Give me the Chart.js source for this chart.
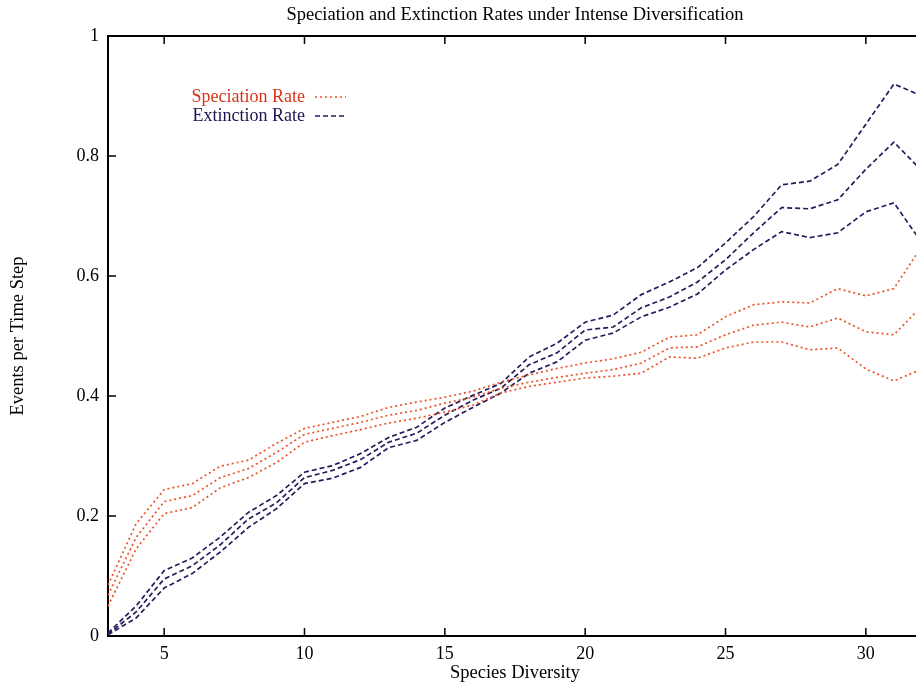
<!DOCTYPE html>
<html><head><meta charset="utf-8">
<script src="https://cdn.jsdelivr.net/npm/chart.js@4/dist/chart.umd.min.js"></script>
<style>html,body{margin:0;padding:0;overflow:hidden;background:#fff;width:916px;height:682px}</style>
</head><body>
<canvas id="c" width="940" height="682" style="display:block;width:940px;height:682px"></canvas>
<script>
const titleText = 'Speciation and Extinction Rates under Intense Diversification';
const xAxisTitle = 'Species Diversity';
const yAxisTitle = 'Events per Time Step';
const legendLabels = ['Speciation Rate', 'Extinction Rate'];

const speciesDiversity = [3,4,5,6,7,8,9,10,11,12,13,14,15,16,17,18,19,20,21,22,23,24,25,26,27,28,29,30,31,32];

const speciationUpper = [0.085,0.187,0.244,0.254,0.283,0.293,0.321,0.346,0.356,0.366,0.381,0.390,0.398,0.408,0.423,0.435,0.446,0.455,0.462,0.473,0.498,0.502,0.532,0.552,0.557,0.555,0.579,0.567,0.579,0.650];
const speciationMean  = [0.068,0.164,0.224,0.234,0.264,0.279,0.306,0.336,0.346,0.356,0.368,0.376,0.388,0.398,0.413,0.423,0.431,0.438,0.444,0.455,0.480,0.482,0.502,0.518,0.523,0.515,0.530,0.507,0.502,0.550];
const speciationLower = [0.050,0.145,0.204,0.214,0.247,0.264,0.289,0.323,0.334,0.344,0.355,0.363,0.373,0.385,0.405,0.416,0.423,0.430,0.433,0.438,0.465,0.463,0.480,0.490,0.490,0.477,0.480,0.445,0.425,0.445];

const extinctionUpper = [0.005,0.050,0.109,0.130,0.165,0.206,0.234,0.273,0.284,0.304,0.331,0.348,0.380,0.401,0.421,0.465,0.488,0.523,0.535,0.569,0.590,0.614,0.655,0.699,0.752,0.758,0.786,0.853,0.920,0.900];
const extinctionMean  = [0.003,0.040,0.095,0.117,0.152,0.195,0.222,0.264,0.276,0.294,0.323,0.338,0.368,0.393,0.413,0.452,0.472,0.510,0.515,0.547,0.565,0.590,0.627,0.672,0.714,0.712,0.727,0.778,0.823,0.775];
const extinctionLower = [0.002,0.030,0.080,0.104,0.140,0.181,0.212,0.254,0.263,0.281,0.314,0.326,0.356,0.381,0.405,0.438,0.457,0.493,0.505,0.532,0.548,0.570,0.610,0.644,0.674,0.664,0.672,0.707,0.722,0.655];

const xTickValues = [5,10,15,20,25,30];
const xTickLabels = ['5','10','15','20','25','30'];
const yTickValues = [0,0.2,0.4,0.6,0.8,1];
const yTickLabels = ['0','0.2','0.4','0.6','0.8','1'];

const ORANGE = '#ec5226';
const NAVY = '#261c5c';
const ORANGE_TEXT = '#d8341a';
const NAVY_TEXT = '#1c1650';
const DOT = [2,3];
const DASH = [5,3];
const FONT = '"Liberation Serif", "Times New Roman", serif';

function toPoints(ys){ return speciesDiversity.map((x,i)=>({x:x,y:ys[i]})); }
function ds(label, ys, color, dash){
  return {label, data: toPoints(ys), borderColor: color, borderWidth: 1.7, borderDash: dash,
          pointRadius: 0, tension: 0, fill: false};
}

const framePlugin = {
  id: 'frame',
  afterDraw(chart){
    const {ctx, chartArea: a, scales: {x, y}} = chart;
    ctx.save();
    ctx.strokeStyle = '#000';
    ctx.lineWidth = 2;
    ctx.setLineDash([]);
    ctx.beginPath();
    ctx.moveTo(a.left, a.top); ctx.lineTo(a.right, a.top);
    ctx.stroke();
    ctx.lineWidth = 1.5;
    ctx.beginPath();
    xTickValues.forEach(v => {
      const px = x.getPixelForValue(v);
      ctx.moveTo(px, a.bottom); ctx.lineTo(px, a.bottom - 8);
      ctx.moveTo(px, a.top); ctx.lineTo(px, a.top + 8);
    });
    yTickValues.forEach(v => {
      const py = y.getPixelForValue(v);
      ctx.moveTo(a.left, py); ctx.lineTo(a.left + 8, py);
    });
    ctx.stroke();

    // title
    ctx.fillStyle = '#000';
    ctx.font = '18.5px ' + FONT;
    ctx.textAlign = 'center';
    ctx.textBaseline = 'middle';
    ctx.fillText(titleText, (a.left + a.right) / 2, 15);

    // legend
    const entries = [
      {text: legendLabels[0], textColor: ORANGE_TEXT, color: ORANGE, dash: DOT, yy: 97},
      {text: legendLabels[1], textColor: NAVY_TEXT, color: NAVY, dash: DASH, yy: 116}
    ];
    ctx.font = '18px ' + FONT;
    ctx.textAlign = 'right';
    entries.forEach(e => {
      ctx.fillStyle = e.textColor;
      ctx.fillText(e.text, 305, e.yy);
      ctx.strokeStyle = e.color;
      ctx.lineWidth = 1.4;
      ctx.setLineDash(e.dash);
      ctx.beginPath();
      ctx.moveTo(315, e.yy); ctx.lineTo(346, e.yy);
      ctx.stroke();
    });
    ctx.restore();
  }
};

new Chart(document.getElementById('c'), {
  type: 'line',
  data: {
    datasets: [
      ds('Speciation Rate (upper)', speciationUpper, ORANGE, DOT),
      ds('Speciation Rate', speciationMean, ORANGE, DOT),
      ds('Speciation Rate (lower)', speciationLower, ORANGE, DOT),
      ds('Extinction Rate (upper)', extinctionUpper, NAVY, DASH),
      ds('Extinction Rate', extinctionMean, NAVY, DASH),
      ds('Extinction Rate (lower)', extinctionLower, NAVY, DASH)
    ]
  },
  options: {
    responsive: false,
    animation: false,
    layout: {padding: {top: 36, right: 18, left: 0, bottom: 0}},
    plugins: {legend: {display: false}, title: {display: false}, tooltip: {enabled: false}},
    scales: {
      x: {
        type: 'linear', min: 3, max: 32,
        afterBuildTicks: s => { s.ticks = xTickValues.map(v => ({value: v})); },
        afterFit: s => { s.height = 46; },
        grid: {display: true, drawOnChartArea: false, drawTicks: false},
        border: {display: true, color: '#000', width: 2},
        ticks: {padding: 7, color: '#000', font: {family: FONT, size: 18}, maxRotation: 0,
                callback: (v, i) => xTickLabels[i]},
        title: {display: true, text: xAxisTitle, color: '#000', font: {family: FONT, size: 18.5, lineHeight: 1.0}, padding: {top: 0, bottom: 0}}
      },
      y: {
        type: 'linear', min: 0, max: 1,
        afterBuildTicks: s => { s.ticks = yTickValues.map(v => ({value: v})); },
        afterFit: s => { s.width = 108; },
        grid: {display: true, drawOnChartArea: false, drawTicks: false},
        border: {display: true, color: '#000', width: 2},
        ticks: {padding: 9, color: '#000', font: {family: FONT, size: 18},
                callback: (v, i) => yTickLabels[i]},
        title: {display: true, text: yAxisTitle, color: '#000', font: {family: FONT, size: 18.5}, padding: {top: 7, bottom: 0}}
      }
    }
  },
  plugins: [framePlugin]
});
</script>
</body></html>
